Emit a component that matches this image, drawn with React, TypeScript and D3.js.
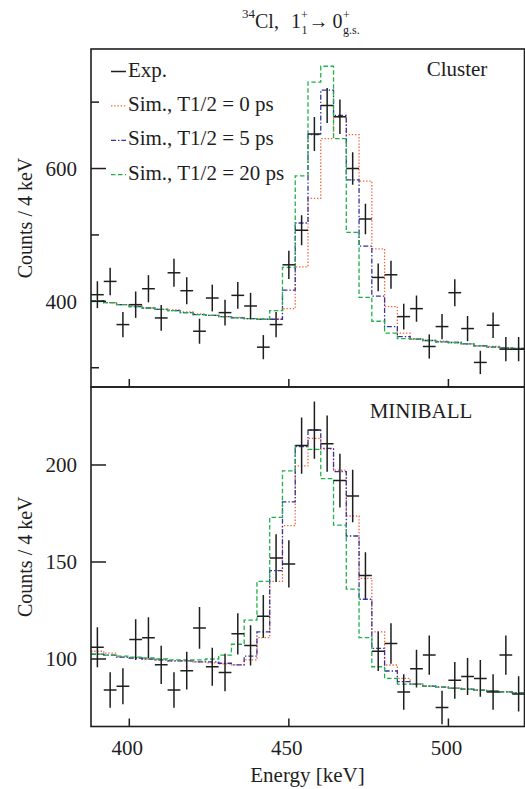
import React from "react";
import * as d3 from "d3";

// 4 keV bins, centres in keV
const binCenters = [
  390, 394, 398, 402, 406, 410, 414, 418, 422, 426, 430, 434, 438, 442, 446, 450, 454,
  458, 462, 466, 470, 474, 478, 482, 486, 490, 494, 498, 502, 506, 510, 514, 518, 522,
];

// Cluster detector
const clusterExp = [
  410, 430, 365, 395, 419, 375, 443, 416, 355, 405, 383, 409, 393, 331, 365, 455, 507,
  652, 695, 678, 600, 524, 436, 440, 377, 389, 332, 362, 413, 359, 308, 364, 328, 328,
];
const clusterSim0 = [
  400, 398, 395, 393, 390, 388, 387, 384, 381, 379, 377, 376, 374, 373, 373, 389, 452,
  555, 645, 678, 651, 581, 479, 392, 352, 344, 341, 340, 338, 336, 333, 332, 330, 329,
];
const clusterSim5 = [
  401, 398, 395, 392, 390, 388, 386, 383, 380, 379, 377, 375, 374, 373, 373, 417, 518,
  651, 718, 680, 583, 483, 408, 362, 347, 343, 341, 339, 338, 336, 333, 331, 330, 329,
];
const clusterSim20 = [
  401, 398, 395, 392, 390, 388, 386, 383, 380, 379, 377, 375, 374, 373, 386, 451, 589,
  730, 754, 645, 504, 406, 370, 352, 344, 343, 341, 339, 338, 336, 333, 331, 330, 329,
];

// MINIBALL detector
const miniballExp = [
  106, 84, 86, 110, 111, 97, 84, 94, 116, 96, 93, 113, 107, 122, 152, 149, 210,
  218, 211, 192, 184, 143, 104, 108, 83, 95, 102, 75, 89, 91, 90, 83, 102, 82,
];
const miniballSim0 = [
  104, 103, 101, 100.5, 100, 99.5, 99, 99, 98.5, 98, 97.5, 97, 99.5, 111, 140, 168.7, 199.5,
  213.7, 208.2, 197.4, 173.7, 141.6, 114, 96.9, 90, 87.2, 86, 85.6, 85, 84.5, 84, 83.6, 83, 82.6,
];
const miniballSim5 = [
  102.5, 102, 101, 100.5, 100, 99.5, 99, 99, 98.5, 98.5, 97.8, 97, 101.5, 114, 145.5, 181, 209.5,
  218, 208.6, 196.6, 163.4, 130.8, 105.5, 93.8, 88.3, 87, 86, 85.5, 85, 84.5, 84, 83.5, 83, 82.5,
];
const miniballSim20 = [
  102.5, 102, 101.5, 101, 100.5, 100, 99.5, 99.5, 99.5, 100, 102, 107.6, 120, 140, 173, 197, 210,
  208, 193, 169, 136, 111, 96, 90, 87, 87, 86, 85.5, 85, 84.5, 84, 83.5, 83, 82.5,
];

const xTicks = [400, 450, 500];
const clusterMajorTicks = [400, 600];
const clusterMinorTicks = [300, 500, 700];
const miniballMajorTicks = [100, 150, 200];

const legendLabels = ["Exp.", "Sim., T1/2 = 0 ps", "Sim., T1/2 = 5 ps", "Sim., T1/2 = 20 ps"];

const FONT = "'Liberation Serif', 'Times New Roman', serif";
const INK = "#1e1e1e";
const simStyles = [
  { color: "#f4643c", dash: "1.4 1.8", width: 1.3 },
  { color: "#34349a", dash: "5 2 1.4 2", width: 1.3 },
  { color: "#1fb14a", dash: "4.5 2.5", width: 1.3 },
];

const W = 525;
const H = 789;
const LEFT = 91;
const RIGHT = 524.5;
const HALF_BIN = 2;

const x = d3.scaleLinear().domain([388, 524]).range([LEFT, 525]);

type PanelProps = {
  id: string;
  top: number;
  bottom: number;
  domain: [number, number];
  exp: number[];
  sims: number[][];
  majorTicks: number[];
  minorTicks: number[];
  label: string;
  labelX: number;
  labelY: number;
  legend?: boolean;
};

function Panel(p: PanelProps) {
  const y = d3.scaleLinear().domain(p.domain).range([p.bottom, p.top]);
  const line = d3
    .line<[number, number]>()
    .x((d) => x(d[0]))
    .y((d) => y(d[1]))
    .curve(d3.curveStepAfter);
  const histPath = (vals: number[]) => {
    const pts: [number, number][] = binCenters.map((c, i) => [c - HALF_BIN, vals[i]]);
    pts.push([binCenters[binCenters.length - 1] + HALF_BIN, vals[vals.length - 1]]);
    return line(pts) || "";
  };
  const clipId = `clip-${p.id}`;
  return (
    <g>
      <defs>
        <clipPath id={clipId}>
          <rect x={LEFT} y={p.top} width={RIGHT - LEFT} height={p.bottom - p.top} />
        </clipPath>
      </defs>
      <g clipPath={`url(#${clipId})`}>
        {p.sims.map((vals, k) => (
          <path
            key={k}
            d={histPath(vals)}
            fill="none"
            stroke={simStyles[k].color}
            strokeWidth={simStyles[k].width}
            strokeDasharray={simStyles[k].dash}
          />
        ))}
        {binCenters.map((c, i) => {
          const v = p.exp[i];
          const err = Math.sqrt(v);
          return (
            <g key={i} stroke={INK} strokeWidth={1.5}>
              <line x1={x(c)} x2={x(c)} y1={y(v - err)} y2={y(v + err)} />
              <line x1={x(c - HALF_BIN)} x2={x(c + HALF_BIN)} y1={y(v)} y2={y(v)} />
            </g>
          );
        })}
      </g>
      {/* frame */}
      <rect
        x={LEFT}
        y={p.top}
        width={RIGHT - LEFT}
        height={p.bottom - p.top}
        fill="none"
        stroke={INK}
        strokeWidth={1.6}
      />
      {/* y ticks */}
      {p.majorTicks.map((t) => (
        <g key={`M${t}`}>
          <line x1={LEFT} x2={LEFT + 15} y1={y(t)} y2={y(t)} stroke={INK} strokeWidth={1.5} />
          <text
            x={77}
            y={y(t)}
            dy="0.35em"
            textAnchor="end"
            fontFamily={FONT}
            fontSize={21}
            fill={INK}
          >
            {t}
          </text>
        </g>
      ))}
      {p.minorTicks.map((t) => (
        <line key={`m${t}`} x1={LEFT} x2={LEFT + 8} y1={y(t)} y2={y(t)} stroke={INK} strokeWidth={1.5} />
      ))}
      {/* x ticks */}
      {xTicks.map((t) => (
        <line key={t} x1={x(t)} x2={x(t)} y1={p.bottom} y2={p.bottom - 8} stroke={INK} strokeWidth={1.5} />
      ))}
      {/* y title */}
      <text
        transform={`translate(32,${(p.top + p.bottom) / 2}) rotate(-90)`}
        textAnchor="middle"
        fontFamily={FONT}
        fontSize={20}
        fill={INK}
      >
        Counts / 4 keV
      </text>
      <text x={p.labelX} y={p.labelY} textAnchor="middle" fontFamily={FONT} fontSize={21} fill={INK}>
        {p.label}
      </text>
      {p.legend && (
        <g fontFamily={FONT} fontSize={21} fill={INK}>
          {legendLabels.map((lab, k) => {
            const base = 76.5 + k * 34.4;
            const ly = base - 5;
            return (
              <g key={k}>
                {k === 0 ? (
                  <line x1={111} x2={126} y1={ly} y2={ly} stroke={INK} strokeWidth={1.5} />
                ) : (
                  <line
                    x1={111}
                    x2={126}
                    y1={ly}
                    y2={ly}
                    stroke={simStyles[k - 1].color}
                    strokeWidth={simStyles[k - 1].width}
                    strokeDasharray={simStyles[k - 1].dash}
                  />
                )}
                <text x={128} y={base}>
                  {lab}
                </text>
              </g>
            );
          })}
        </g>
      )}
    </g>
  );
}

// Title: 34Cl, 1+_1 -> 0+_g.s. with stacked super/subscripts
function Title() {
  return (
    <g fontFamily={FONT} fill={INK}>
      <text x={242} y={18} fontSize={13}>34</text>
      <text x={255} y={27.5} fontSize={20}>Cl,</text>
      <text x={291} y={27.5} fontSize={20}>1</text>
      <text x={301} y={19} fontSize={12}>+</text>
      <text x={301.5} y={33.5} fontSize={12}>1</text>
      <text x={308.5} y={27.5} fontSize={20}>→</text>
      <text x={332.5} y={27.5} fontSize={20}>0</text>
      <text x={343} y={19} fontSize={12}>+</text>
      <text x={343} y={33.5} fontSize={12}>g.s.</text>
    </g>
  );
}

export default function App() {
  return (
    <svg
      width={W}
      height={H}
      viewBox={`0 0 ${W} ${H}`}
      style={{ position: "absolute", left: 0, top: 0, background: "#fff" }}
    >
      <rect x={0} y={0} width={W} height={H} fill="#fff" />
      <Title />
      <Panel
        id="cluster"
        top={49}
        bottom={387}
        domain={[271, 780]}
        exp={clusterExp}
        sims={[clusterSim0, clusterSim5, clusterSim20]}
        majorTicks={clusterMajorTicks}
        minorTicks={clusterMinorTicks}
        label="Cluster"
        labelX={457}
        labelY={76}
        legend
      />
      <Panel
        id="miniball"
        top={387}
        bottom={726.5}
        domain={[65.2, 240.2]}
        exp={miniballExp}
        sims={[miniballSim0, miniballSim5, miniballSim20]}
        majorTicks={miniballMajorTicks}
        minorTicks={[]}
        label="MINIBALL"
        labelX={421}
        labelY={417.5}
      />
      {xTicks.map((t) => (
        <text
          key={t}
          x={x(t) - 2}
          y={755}
          textAnchor="middle"
          fontFamily={FONT}
          fontSize={21}
          fill={INK}
        >
          {t}
        </text>
      ))}
      <text x={307.5} y={782} textAnchor="middle" fontFamily={FONT} fontSize={21} fill={INK}>
        Energy [keV]
      </text>
    </svg>
  );
}
